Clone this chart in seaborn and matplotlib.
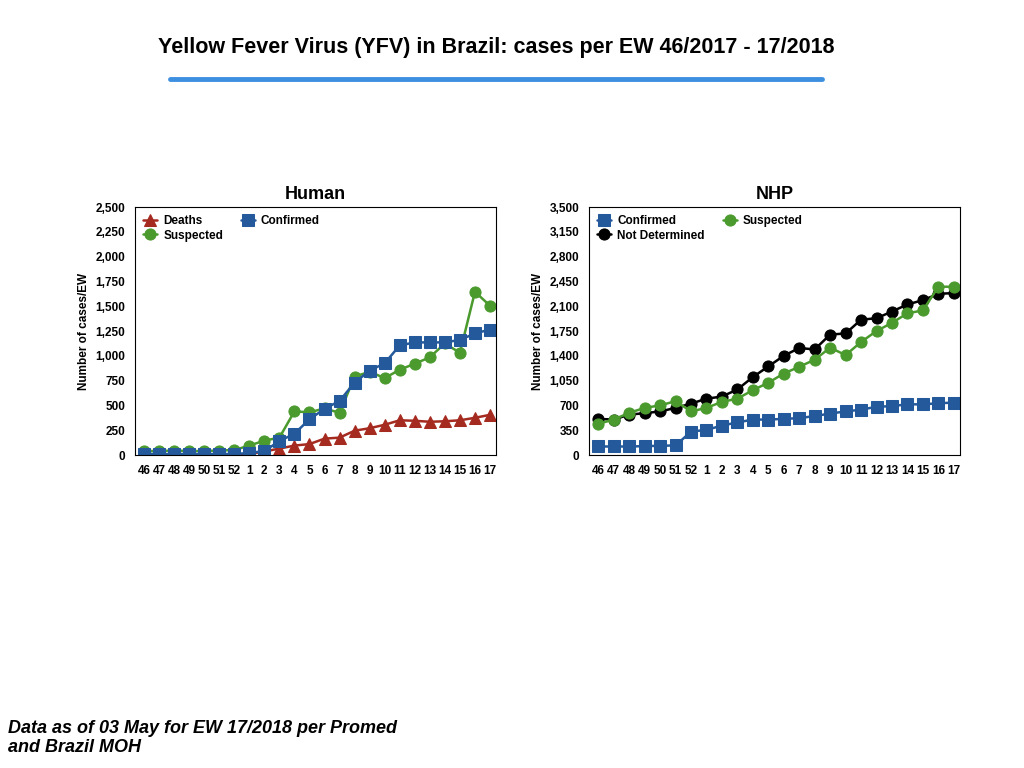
import matplotlib
matplotlib.use("Agg")
import matplotlib.pyplot as plt
import seaborn as sns
import pandas as pd
from matplotlib.ticker import FuncFormatter

weeks = ["46","47","48","49","50","51","52","1","2","3","4","5","6","7","8","9","10","11","12","13","14","15","16","17"]
human_deaths = [5,5,5,5,5,5,5,10,35,65,95,110,165,175,245,270,305,350,345,335,340,350,375,405]
human_suspected = [40,40,45,40,40,45,50,95,145,175,440,430,470,425,790,840,775,860,920,985,1125,1030,1645,1505]
human_confirmed = [10,10,10,10,10,10,10,20,40,140,215,360,465,545,730,850,925,1105,1135,1135,1135,1160,1225,1265]
nhp_confirmed = [120,120,120,125,130,135,330,355,415,460,500,500,510,520,550,585,615,640,680,690,715,715,730,740]
nhp_notdet = [510,500,570,590,615,665,725,795,825,925,1100,1250,1400,1510,1490,1700,1715,1910,1930,2025,2125,2185,2275,2285]
nhp_suspected = [440,500,595,665,700,760,615,665,750,795,915,1020,1150,1245,1345,1515,1410,1595,1750,1865,2000,2040,2375,2375]

sns.set_theme(style="white")
plt.rcParams['font.family'] = ['Liberation Sans', 'DejaVu Sans']
plt.rcParams['text.color'] = 'black'
plt.rcParams['axes.labelcolor'] = 'black'
plt.rcParams['xtick.color'] = 'black'
plt.rcParams['ytick.color'] = 'black'
RED, GREEN, BLUE, BLACK = "#a52a1f", "#4a9a2e", "#245a9c", "#000000"

fig = plt.figure(figsize=(10.24, 7.68), dpi=100)
fig.text(0.485, 0.938, "Yellow Fever Virus (YFV) in Brazil: cases per EW 46/2017 - 17/2018",
         ha="center", va="center", fontsize=15.5, fontweight="bold", color="black")
fig.add_artist(plt.Line2D([170/1024, 822/1024], [1-79/768]*2, color="#3d8fe0", lw=3.5))
fig.text(8/1024, 1-738/768, "Data as of 03 May for EW 17/2018 per Promed\nand Brazil MOH",
         ha="left", va="center", fontsize=13, fontweight="bold", style="italic", linespacing=1.1, color="black")

x = list(range(len(weeks)))
def panel(rect, title, series, ymax, step):
    ax = fig.add_axes(rect)
    for name, vals, col, mk, ms in series:
        df = pd.DataFrame({"x": x, "y": vals})
        sns.lineplot(data=df, x="x", y="y", ax=ax, color=col, marker=mk, markersize=ms,
                     markeredgecolor=col, lw=1.8, label=name)
    ax.set_xlim(-0.6, len(weeks)-0.6)
    ax.set_ylim(0, ymax)
    ax.set_yticks(range(0, ymax+1, step))
    ax.yaxis.set_major_formatter(FuncFormatter(lambda v, p: f"{int(v):,}"))
    ax.set_xticks(x)
    ax.set_xticklabels(weeks)
    ax.tick_params(labelsize=8.5, pad=1, colors="black")
    for lab in ax.get_xticklabels() + ax.get_yticklabels():
        lab.set_fontweight("bold")
    ax.set_xlabel("")
    ax.set_ylabel("Number of cases/EW", fontsize=8.5, fontweight="bold", color="black")
    ax.set_title(title, fontsize=13, fontweight="bold", pad=6, color="black")
    for s in ax.spines.values():
        s.set_color("black"); s.set_linewidth(0.8)
    leg = ax.legend(loc="upper left", ncol=2, frameon=False, fontsize=8.5,
                    handlelength=1.2, columnspacing=1.5, handletextpad=0.5,
                    labelspacing=0.2, borderaxespad=0.3)
    for t in leg.get_texts():
        t.set_fontweight("bold"); t.set_color("black")
    return ax

panel([135/1024, 1-455/768, 361/1024, 248/768], "Human",
      [("Deaths", human_deaths, RED, "^", 8),
       ("Suspected", human_suspected, GREEN, "o", 8),
       ("Confirmed", human_confirmed, BLUE, "s", 8)], 2500, 250)
panel([589/1024, 1-455/768, 371/1024, 248/768], "NHP",
      [("Confirmed", nhp_confirmed, BLUE, "s", 8),
       ("Not Determined", nhp_notdet, BLACK, "o", 8),
       ("Suspected", nhp_suspected, GREEN, "o", 8)], 3500, 350)

fig.savefig("out.png", dpi=100)
